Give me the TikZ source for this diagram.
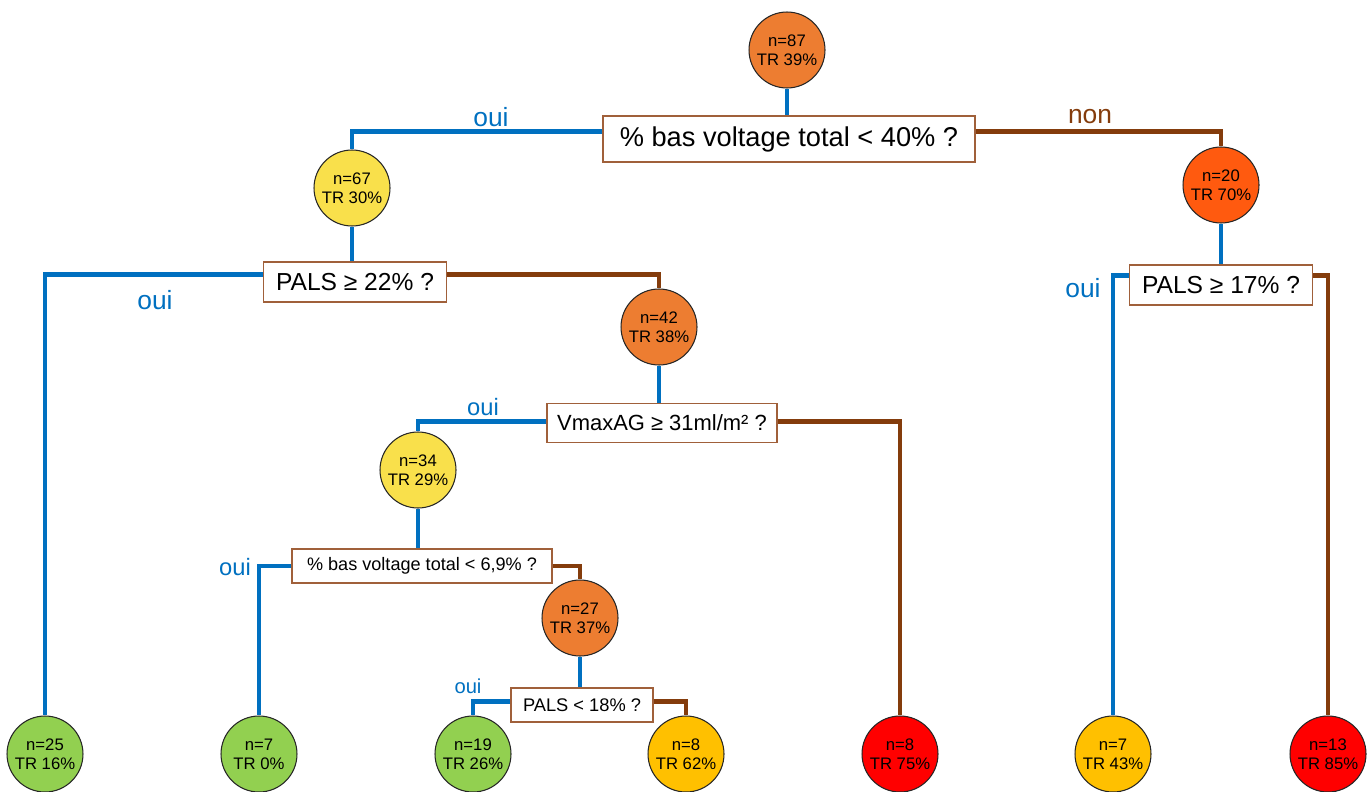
\documentclass[tikz,border=0pt]{standalone}
\usepackage{fontspec}
\setmainfont{Liberation Sans}
\definecolor{ouiblue}{HTML}{0070C0}
\definecolor{nonbrown}{HTML}{843C0C}
\definecolor{boxline}{HTML}{A0603A}
\definecolor{orangeN}{HTML}{ED7D31}
\definecolor{yellowN}{HTML}{F9E04B}
\definecolor{redorN}{HTML}{FF5A0F}
\definecolor{greenN}{HTML}{92D050}
\definecolor{goldN}{HTML}{FFC000}
\definecolor{redN}{HTML}{FF0000}

\begin{document}
\begin{tikzpicture}[x=0.02cm,y=-0.02cm,
  leaf/.style={circle,draw=black!85,line width=0.6pt,minimum size=1.52cm,inner sep=0pt,
    align=center,font=\fontsize{9.5}{11}\selectfont},
  qbox/.style={draw=boxline,line width=0.8pt,fill=white,inner sep=0pt},
  yes/.style={ouiblue,line width=2.8pt},
  no/.style={nonbrown,line width=2.8pt},
  lbl/.style={inner sep=0pt}]
\clip (0,0) rectangle (1372,791);
\node[leaf,fill=orangeN] (n87) at (787,50) {n=87\\TR 39\%};
\node[qbox,minimum width=7.44cm,minimum height=0.92cm,font=\fontsize{15.5}{17}\selectfont] (q1) at (789,139) {\% bas voltage total < 40\% ?};
\node[leaf,fill=yellowN] (n67) at (352,188) {n=67\\TR 30\%};
\node[leaf,fill=redorN] (n20) at (1221,185) {n=20\\TR 70\%};
\node[qbox,minimum width=3.66cm,minimum height=0.8cm,font=\fontsize{14}{16}\selectfont] (q2) at (355,282) {PALS ≥ 22\% ?};
\node[qbox,minimum width=3.66cm,minimum height=0.8cm,font=\fontsize{14}{16}\selectfont] (q6) at (1221,285) {PALS ≥ 17\% ?};
\node[leaf,fill=orangeN] (n42) at (659,327) {n=42\\TR 38\%};
\node[qbox,minimum width=4.6cm,minimum height=0.78cm,font=\fontsize{12.5}{14}\selectfont] (q3) at (662,423) {VmaxAG ≥ 31ml/m² ?};
\node[leaf,fill=yellowN] (n34) at (418,470) {n=34\\TR 29\%};
\node[qbox,minimum width=5.2cm,minimum height=0.68cm,font=\fontsize{10.3}{12}\selectfont] (q4) at (422,566) {\% bas voltage total < 6,9\% ?};
\node[leaf,fill=orangeN] (n27) at (580,618) {n=27\\TR 37\%};
\node[qbox,minimum width=2.84cm,minimum height=0.68cm,font=\fontsize{10.4}{12}\selectfont] (q5) at (582,705) {PALS < 18\% ?};
\node[leaf,fill=greenN] (n25) at (45,754) {n=25\\TR 16\%};
\node[leaf,fill=greenN] (n7a) at (259,754) {n=7\\TR 0\%};
\node[leaf,fill=greenN] (n19) at (473,754) {n=19\\TR 26\%};
\node[leaf,fill=goldN] (n8a) at (686,754) {n=8\\TR 62\%};
\node[leaf,fill=redN] (n8b) at (900,754) {n=8\\TR 75\%};
\node[leaf,fill=goldN] (n7b) at (1113,754) {n=7\\TR 43\%};
\node[leaf,fill=redN] (n13) at (1328,754) {n=13\\TR 85\%};
% labels
\node[lbl,ouiblue,font=\fontsize{15}{17}\selectfont] (l1) at (491,117) {oui};
\node[lbl,nonbrown,font=\fontsize{15}{17}\selectfont] (l2) at (1090,117) {non};
\node[lbl,ouiblue,font=\fontsize{15}{17}\selectfont] (l3) at (155,300) {oui};
\node[lbl,ouiblue,font=\fontsize{15}{17}\selectfont] (l4) at (1083,288) {oui};
\node[lbl,ouiblue,font=\fontsize{13.5}{15}\selectfont] (l5) at (483,407) {oui};
\node[lbl,ouiblue,font=\fontsize{13.5}{15}\selectfont] (l6) at (235,567) {oui};
\node[lbl,ouiblue,font=\fontsize{11.5}{13}\selectfont] (l7) at (468,686) {oui};
% branches
\draw[yes] (n87) -- (n87 |- q1.north);
\draw[yes] ([yshift=4.5pt]q1.west) -| (n67);
\draw[no] ([yshift=4.5pt]q1.east) -| (n20);
\draw[yes] (n67) -- (n67 |- q2.north);
\draw[yes] ([yshift=4.5pt]q2.west) -| (n25);
\draw[no] ([yshift=4.5pt]q2.east) -| (n42);
\draw[yes] (n20) -- (n20 |- q6.north);
\draw[yes] ([yshift=5.5pt]q6.west) -| (n7b);
\draw[no] ([yshift=5.5pt]q6.east) -| (n13);
\draw[yes] (n42) -- (n42 |- q3.north);
\draw[yes] ([yshift=1pt]q3.west) -| (n34);
\draw[no] ([yshift=1pt]q3.east) -| (n8b);
\draw[yes] (n34) -- (n34 |- q4.north);
\draw[yes] (q4.west) -| (n7a);
\draw[no] (q4.east) -| (n27);
\draw[yes] (n27) -- (n27 |- q5.north);
\draw[yes] ([yshift=2pt]q5.west) -| (n19);
\draw[no] ([yshift=2pt]q5.east) -| (n8a);
\end{tikzpicture}
\end{document}
